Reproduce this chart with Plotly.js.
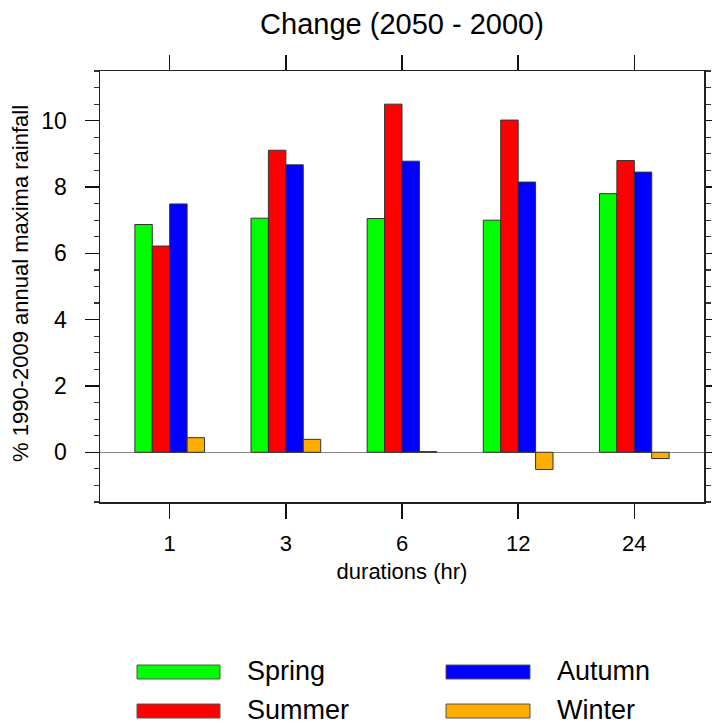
<!DOCTYPE html>
<html>
<head>
<meta charset="utf-8">
<script src="https://cdn.plot.ly/plotly-3.0.1.min.js"></script>
<style>
  html, body { margin: 0; padding: 0; background: #fff; }
  #chart { width: 712px; height: 726px; }
</style>
</head>
<body>
<div id="chart"></div>
<script>
// Rainfall duration categories (hours)
const durations = ['1', '3', '6', '12', '24'];

// Seasonal change in annual maxima rainfall (%)
const spring = [6.87, 7.06, 7.05, 7.00, 7.80];
const summer = [6.22, 9.11, 10.50, 10.02, 8.80];
const autumn = [7.49, 8.67, 8.78, 8.15, 8.45];
const winter = [0.44, 0.39, 0.02, -0.52, -0.19];

const seasonNames = ['Spring', 'Summer', 'Autumn', 'Winter'];
const seasonColors = ['#00FF00', '#FF0000', '#0000FF', '#FFAE00'];
const seasonValues = [spring, summer, autumn, winter];

const FONT = '"Liberation Sans", Arial, Helvetica, sans-serif';

const traces = seasonValues.map((vals, i) => ({
  type: 'bar',
  name: seasonNames[i],
  x: durations,
  y: vals,
  marker: { color: seasonColors[i], line: { color: '#333', width: 1 } },
  hoverinfo: 'x+y+name'
}));

// Plot area in pixels, used to place the key and the y title
const W = 712, H = 726;
const M = { l: 100, r: 8, t: 71, b: 224 };
const pw = W - M.l - M.r, ph = H - M.t - M.b;
const px = v => (v - M.l) / pw;
const py = v => (H - M.b - v) / ph;

// Key layout: [swatch start, swatch end, text start] per column, centre y per row
const keyCols = [[137, 220, 245], [446, 530, 555]];
const keyRows = [672, 711];
const keyOrder = [[0, 0, 0], [1, 0, 1], [2, 1, 0], [3, 1, 1]]; // series, col, row

const shapes = [];
const annotations = [];
keyOrder.forEach(([s, c, r]) => {
  const [x0, x1, xt] = keyCols[c];
  const yc = keyRows[r];
  shapes.push({
    type: 'rect', xref: 'paper', yref: 'paper',
    x0: px(x0), x1: px(x1), y0: py(yc - 7), y1: py(yc + 7),
    fillcolor: seasonColors[s], line: { color: '#555', width: 1 }
  });
  annotations.push({
    xref: 'paper', yref: 'paper', x: px(xt), y: py(yc - 1),
    xanchor: 'left', yanchor: 'middle', showarrow: false,
    text: seasonNames[s], font: { family: FONT, size: 27, color: '#000' }
  });
});

// Y-axis title, placed at a fixed distance left of the tick labels
annotations.push({
  xref: 'paper', yref: 'paper', x: px(20), y: py(284),
  xanchor: 'center', yanchor: 'middle', showarrow: false, textangle: -90,
  text: '% 1990-2009 annual maxima rainfall',
  font: { family: FONT, size: 22, color: '#000' }
});

const layout = {
  width: W, height: H,
  margin: M,
  paper_bgcolor: '#fff', plot_bgcolor: '#fff',
  font: { family: FONT, color: '#000' },
  showlegend: false,
  barmode: 'group',
  bargap: 0.4,
  bargroupgap: 0,
  title: {
    text: 'Change (2050 - 2000)',
    font: { family: FONT, size: 29, color: '#000' },
    xref: 'paper', x: 0.5, xanchor: 'center',
    yref: 'container', y: 1 - 24 / H, yanchor: 'middle'
  },
  xaxis: {
    type: 'category',
    range: [-0.6, 4.6],
    showline: true, linecolor: '#222', linewidth: 1.5, mirror: 'ticks',
    ticks: 'outside', ticklen: 15, tickwidth: 1.5, tickcolor: '#111',
    ticklabelstandoff: 6,
    tickfont: { family: FONT, size: 22, color: '#000' },
    showgrid: false, zeroline: false,
    title: { text: 'durations (hr)', font: { family: FONT, size: 22, color: '#000' }, standoff: 8 }
  },
  yaxis: {
    range: [-1.5, 11.5],
    dtick: 2, tick0: 0,
    showline: true, linecolor: '#222', linewidth: 1.5, mirror: 'ticks',
    ticks: 'outside', ticklen: 14, tickwidth: 1.5, tickcolor: '#111',
    ticklabelstandoff: 13,
    minor: { dtick: 0.5, ticks: 'outside', ticklen: 5, tickwidth: 1.2, tickcolor: '#333', showgrid: false },
    tickfont: { family: FONT, size: 23, color: '#000' },
    showgrid: false,
    zeroline: true, zerolinecolor: '#888', zerolinewidth: 1
  },
  shapes: shapes,
  annotations: annotations
};

Plotly.newPlot('chart', traces, layout, { displayModeBar: false, staticPlot: true });
</script>
</body>
</html>
